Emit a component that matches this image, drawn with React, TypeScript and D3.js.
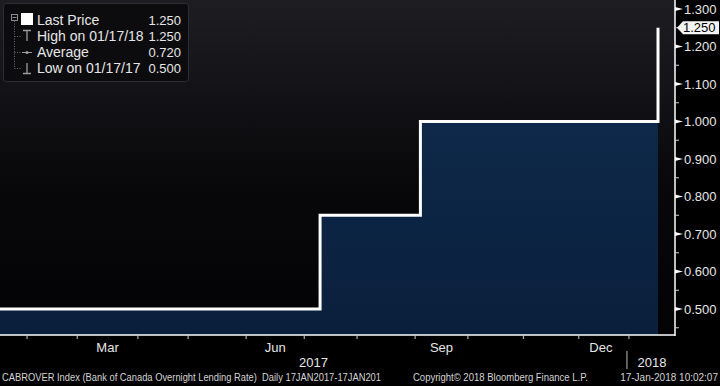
import React from 'react';
import * as d3 from 'd3';

const START = '2017-01-17';
const END = '2018-01-17';
const HOLIDAYS = ['2017-02-20', '2017-04-14', '2017-05-22', '2017-07-03', '2017-08-07', '2017-09-04', '2017-10-09', '2017-11-13', '2017-12-25', '2017-12-26', '2018-01-01'];
const CHANGE_DATES = ['2017-01-17', '2017-07-12', '2017-09-06', '2018-01-17'];
const RATES = [0.5, 0.75, 1.0, 1.25];
const Y_TICKS = [0.5, 0.6, 0.7, 0.8, 0.9, 1.0, 1.1, 1.2, 1.3];
const Y_MINOR = [0.45, 0.55, 0.65, 0.75, 0.85, 0.95, 1.05, 1.15, 1.25];
const MONTH_LABELS = ['Mar', 'Jun', 'Sep', 'Dec'];
const LEGEND_LABELS = ['Last Price', 'High on 01/17/18', 'Average', 'Low on 01/17/17'];
const LEGEND_VALUES = ['1.250', '1.250', '0.720', '0.500'];
const LAST_PRICE = 1.25;
const FOOTER_LEFT = 'CABROVER Index (Bank of Canada Overnight Lending Rate)  Daily 17JAN2017-17JAN201';
const FOOTER_MID = 'Copyright\u00A9 2018 Bloomberg Finance L.P.';
const FOOTER_RIGHT = '17-Jan-2018 10:02:07';

const W = 720, H = 386;
const PR = 675, PB = 335;
const FONT = '"Liberation Sans", Arial, sans-serif';

const parse = d3.utcParse('%Y-%m-%d');
const fmt = d3.utcFormat('%Y-%m-%d');

function tradingDays(): Date[] {
  const out: Date[] = [];
  const hol = new Set(HOLIDAYS);
  const end = parse(END)!;
  for (let d = parse(START)!; d <= end; d = d3.utcDay.offset(d, 1)) {
    const wd = d.getUTCDay();
    if (wd === 0 || wd === 6) continue;
    if (hol.has(fmt(d))) continue;
    out.push(d);
  }
  return out;
}

export default function App() {
  const days = tradingDays();
  const idx = (s: string) => {
    const t = parse(s)!;
    const i = days.findIndex((d) => d >= t);
    return i < 0 ? days.length - 1 : i;
  };
  const x = d3.scaleLinear().domain([0, days.length - 1]).range([-2, 658]);
  const y = d3.scaleLinear().domain([0.5, 1.3]).range([309, 9]);

  const pts = CHANGE_DATES.map((d, k) => ({ i: idx(d), v: RATES[k] }));
  const line = d3.line<{ i: number; v: number }>().curve(d3.curveStepAfter).x((p) => x(p.i)).y((p) => y(p.v));
  const area = d3.area<{ i: number; v: number }>().curve(d3.curveStepAfter).x((p) => x(p.i)).y0(PB).y1((p) => y(p.v));

  const monthTicks: number[] = [];
  for (let i = 1; i < days.length; i++) {
    if (days[i].getUTCMonth() !== days[i - 1].getUTCMonth()) monthTicks.push(i);
  }
  const monthLabels = monthTicks
    .map((t, k) => ({ t, next: k + 1 < monthTicks.length ? monthTicks[k + 1] : days.length - 1, name: d3.utcFormat('%b')(days[t]) }))
    .filter((m) => MONTH_LABELS.includes(m.name));
  const yearTick = monthTicks.find((t) => days[t].getUTCFullYear() === 2018)!;

  const monoColor = '#e6e6e6';

  return (
    <svg width={W} height={H} style={{ position: 'absolute', left: 0, top: 0, display: 'block', background: '#000' }} fontFamily={FONT}>
      <defs>
        <linearGradient id="bg" x1="0" y1="0" x2="0" y2="1">
          <stop offset="0" stopColor="#1e1e22" />
          <stop offset="0.55" stopColor="#08080b" />
          <stop offset="1" stopColor="#030306" />
        </linearGradient>
        <linearGradient id="fill" x1="0" y1="0" x2="0" y2="1">
          <stop offset="0" stopColor="#102d50" />
          <stop offset="1" stopColor="#0a1f3c" />
        </linearGradient>
        <clipPath id="plot"><rect x={0} y={0} width={PR} height={PB} /></clipPath>
      </defs>
      <rect x={0} y={0} width={W} height={H} fill="#000" />
      <rect x={0} y={0} width={PR} height={PB} fill="url(#bg)" />
      <g clipPath="url(#plot)">
        <path d={area(pts) || ''} fill="url(#fill)" />
        <path d={line(pts) || ''} fill="none" stroke="#fff" strokeWidth={3} />
      </g>
      {/* axes */}
      <line x1={0} x2={PR} y1={PB} y2={PB} stroke="#fff" strokeWidth={1.5} />
      <line x1={PR} x2={PR} y1={0} y2={PB + 1} stroke="#fff" strokeWidth={1.5} />
      {monthTicks.map((t) => (
        <line key={t} x1={x(t)} x2={x(t)} y1={PB} y2={PB + 4} stroke="#cfcfcf" strokeWidth={1} />
      ))}
      {monthLabels.map((m) => (
        <text key={m.name} x={(x(m.t) + x(m.next)) / 2 - (m.name === 'Dec' ? 3 : 0)} y={352} fill={monoColor} fontSize={13} textAnchor="middle">{m.name}</text>
      ))}
      <text x={(x(0) + x(yearTick)) / 2} y={367} fill={monoColor} fontSize={13} textAnchor="middle">2017</text>
      <line x1={x(yearTick) - 2} x2={x(yearTick) - 2} y1={351} y2={369} stroke="#bdbdbd" strokeWidth={1} />
      <text x={(x(yearTick) + PR) / 2} y={367} fill={monoColor} fontSize={13} textAnchor="middle">2018</text>
      {Y_MINOR.map((v) => (
        <line key={v} x1={PR} x2={PR + 4} y1={y(v)} y2={y(v)} stroke="#cfcfcf" strokeWidth={1} />
      ))}
      {Y_TICKS.map((v) => (
        <g key={v} transform={`translate(0,${y(v)})`}>
          <path d={`M${PR},-2 L${PR + 8},0 L${PR},2 Z`} fill="#fff" />
          <text x={684} y={0} dy="0.36em" fill={monoColor} fontSize={13}>{v.toFixed(3)}</text>
        </g>
      ))}
      <g transform={`translate(0,${y(LAST_PRICE)})`}>
        <path d={`M${PR + 2},0 L${PR + 8},-6.5 L719,-6.5 L719,6.5 L${PR + 8},6.5 Z`} fill="#f4f4f4" />
        <text x={683} y={0} dy="0.36em" fill="#000" fontSize={13}>{LAST_PRICE.toFixed(3)}</text>
      </g>
      {/* legend */}
      <rect x={3.5} y={3.5} width={185} height={78} rx={3} fill="#0c0c0e" stroke="#2e2e32" />
      <rect x={11.5} y={14.5} width={6} height={6} fill="none" stroke="#8a8a8a" />
      <line x1={12.5} x2={16.5} y1={17.5} y2={17.5} stroke="#8a8a8a" />
      <path d="M14.5,21 V68.5 M14.5,36.5 H21 M14.5,52.5 H21 M14.5,68.5 H21" stroke="#6a6a6a" strokeDasharray="1,1.5" fill="none" />
      <rect x={21} y={13} width={12} height={12} fill="#fff" />
      <path d="M23,30.5 H31 M27,30.5 V41" stroke="#9a9a9a" strokeWidth={1.3} fill="none" />
      <path d="M22,52.5 H32" stroke="#9a9a9a" strokeWidth={1} fill="none" />
      <circle cx={27} cy={52.5} r={1.6} fill="#9a9a9a" />
      <path d="M27,63 V73.5 M23,73.5 H31" stroke="#9a9a9a" strokeWidth={1.3} fill="none" />
      {LEGEND_LABELS.map((l, k) => (
        <g key={l}>
          <text x={37} y={25 + k * 16} fill={monoColor} fontSize={14}>{l}</text>
          <text x={181} y={25 + k * 16} fill={monoColor} fontSize={13} textAnchor="end">{LEGEND_VALUES[k]}</text>
        </g>
      ))}
      {/* footer */}
      <text x={2} y={381} fill="#d4d4d4" fontSize={10} textLength={379} lengthAdjust="spacingAndGlyphs" style={{ whiteSpace: 'pre' }}>{FOOTER_LEFT}</text>
      <text x={413} y={381} fill="#d4d4d4" fontSize={10} textLength={175} lengthAdjust="spacingAndGlyphs">{FOOTER_MID}</text>
      <text x={718} y={381} fill="#d4d4d4" fontSize={10} textAnchor="end">{FOOTER_RIGHT}</text>
    </svg>
  );
}
